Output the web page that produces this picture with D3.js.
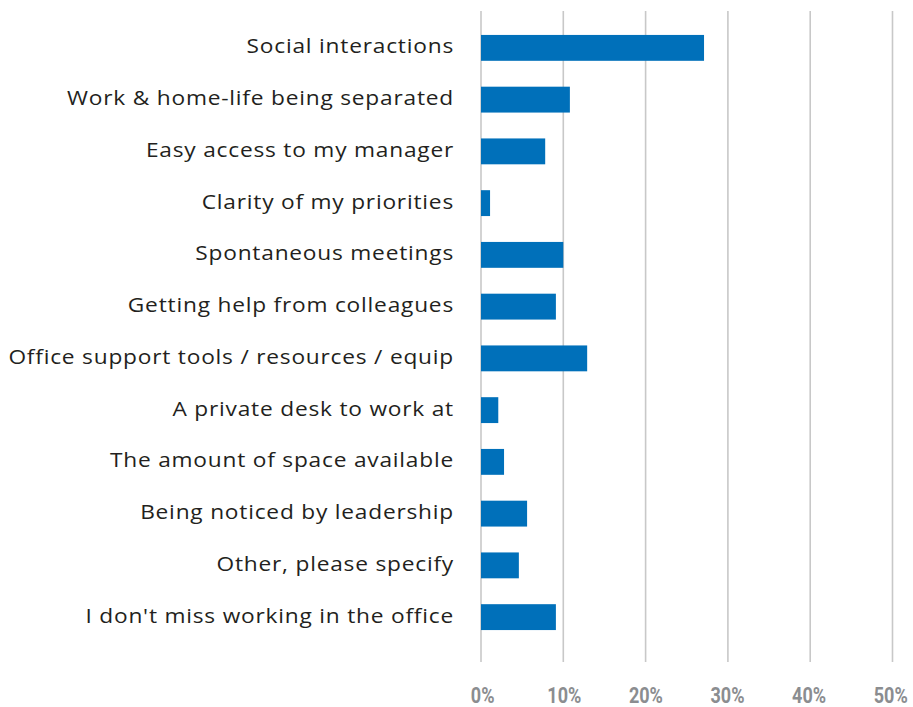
<!DOCTYPE html>
<html>
<head>
<meta charset="utf-8">
<script src="https://cdn.jsdelivr.net/npm/d3@7"></script>
<style>
  html, body { margin: 0; padding: 0; background: #fff; }
  svg { display: block; }
  .cat { font-family: "Open Sans", "Noto Sans", sans-serif; font-size: 20px; fill: #231f20; letter-spacing: 0.7px; }
  .tick-label { font-family: "Roboto", "DejaVu Sans", sans-serif; font-weight: bold; font-size: 22px; fill: #8b8d90; }
</style>
</head>
<body>
<svg id="chart" width="913" height="707"></svg>
<script>
const categories = [
  "Social interactions",
  "Work & home-life being separated",
  "Easy access to my manager",
  "Clarity of my priorities",
  "Spontaneous meetings",
  "Getting help from colleagues",
  "Office support tools / resources / equip",
  "A private desk to work at",
  "The amount of space available",
  "Being noticed by leadership",
  "Other, please specify",
  "I don't miss working in the office"
];
const values = [27.1, 10.8, 7.8, 1.1, 10.0, 9.1, 12.9, 2.1, 2.8, 5.6, 4.6, 9.1];
const tickValues = [0, 10, 20, 30, 40, 50];
const tickLabels = ["0%", "10%", "20%", "30%", "40%", "50%"];

const svg = d3.select("#chart");

const x = d3.scaleLinear().domain([0, 50]).range([481, 892.5]);
const y = d3.scaleBand().domain(categories).range([22, 643]).paddingInner(0.5).paddingOuter(0.25);

// vertical gridlines
svg.append("g").selectAll("line")
  .data(tickValues)
  .join("line")
  .attr("x1", d => x(d)).attr("x2", d => x(d))
  .attr("y1", 11).attr("y2", 662)
  .attr("stroke", "#c8c8c8")
  .attr("stroke-width", 1.6);

// bars
svg.append("g").selectAll("rect")
  .data(values)
  .join("rect")
  .attr("x", x(0))
  .attr("y", (d, i) => y(categories[i]))
  .attr("width", d => x(d) - x(0))
  .attr("height", y.bandwidth())
  .attr("fill", "#0070ba");

// category labels, right-aligned against the plot
const labels = svg.append("g").selectAll("text")
  .data(categories)
  .join("text")
  .attr("class", "cat")
  .attr("text-anchor", "end")
  .text(d => d);

// widen the glyphs so the longest label spans the label column
const longest = categories.reduce((a, b) => (b.length > a.length ? b : a));
const baseWidth = labels.filter(d => d === longest).node().getComputedTextLength();
const stretch = 446 / baseWidth;
labels.attr("transform", d => `translate(454,${y(d) + y.bandwidth() / 2 + 5.5}) scale(${stretch},1)`);

// x tick labels, condensed
svg.append("g").selectAll("text")
  .data(tickValues)
  .join("text")
  .attr("class", "tick-label")
  .attr("transform", d => `translate(${x(d) + 1.7 - 3.5 * d / 50},703) scale(0.82,1)`)
  .attr("text-anchor", "middle")
  .text((d, i) => tickLabels[i]);
</script>
</body>
</html>
